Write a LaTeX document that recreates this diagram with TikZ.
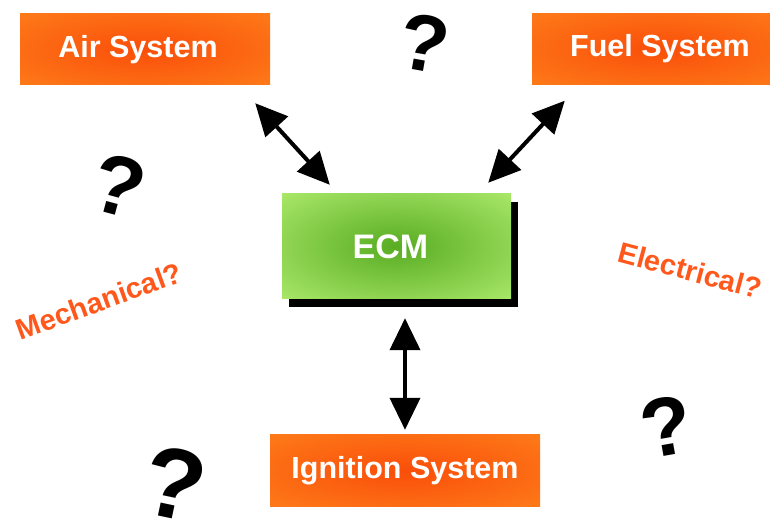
\documentclass[tikz,border=0pt]{standalone}
\usepackage{fontspec}
\setmainfont{Liberation Sans}
\usepackage{tikz}
\usetikzlibrary{shapes,arrows.meta,shadows}
\definecolor{orangein}{RGB}{250,78,10}
\definecolor{orangeout}{RGB}{255,140,30}
\definecolor{greenin}{RGB}{88,172,34}
\definecolor{greenout}{RGB}{188,245,122}
\definecolor{greenrim}{RGB}{214,255,160}
\definecolor{hint}{RGB}{255,88,28}
\pgfdeclareradialshading{orangeglow}{\pgfpoint{0bp}{0bp}}{color(0bp)=(orangein); color(50bp)=(orangeout); color(70bp)=(orangeout)}
\pgfdeclareradialshading{greenglow}{\pgfpoint{0bp}{0bp}}{color(0bp)=(greenin); color(44bp)=(greenout); color(70bp)=(greenrim)}
\def\Core{ECM}

\begin{document}
\begin{tikzpicture}[x=1pt,y=1pt,% styles shared by all nodes and edges
			every node/.style={
				align=center,		% so that "\\" works inside a node
				inner sep=0pt
			},
			sysbox/.style={rectangle,shading=orangeglow,
				minimum height=71pt,text=white,font=\bfseries\fontsize{30.5}{33}\selectfont},
			corebox/.style={rectangle,shading=greenglow,
				minimum width=229pt,minimum height=105pt,text=white,
				font=\bfseries\fontsize{34}{38}\selectfont,
				drop shadow={shadow xshift=7pt,shadow yshift=-8pt,fill=black,opacity=1}},
			guess/.style={text=black,font=\bfseries\fontsize{#1}{#1}\selectfont},
			tag/.style={text=hint,font=\bfseries\fontsize{29}{32}\selectfont},
			every edge/.style={draw,line width=4pt,{Triangle[length=32pt,width=30pt]}-{Triangle[length=32pt,width=30pt]}}
		]
		\useasboundingbox (0,0) rectangle (770,521);
		\clip (0,0) rectangle (770,521);
		\node[sysbox,minimum width=250pt](Air) at (145,471.5){Air System\hspace*{14pt}};
		\node[sysbox,minimum width=256pt](Fuel) at (660,472){Fuel System};
		\node[corebox](Core) at (396.5,274.5){\Core\hspace*{12pt}};
		\node[sysbox,minimum width=270pt,minimum height=72pt](Ign) at (405,50){Ignition System};
		\node[tag,rotate=20](Mech) at (99,220){Mechanical?};
		\node[tag,rotate=-15](Elec) at (690,250.5){Electrical?};
		\node[guess=80,rotate=-10](QTop) at (424,478){?};
		\node[guess=84,rotate=-15](QLeft) at (119,335){?};
		\node[guess=100,rotate=-12](QLow) at (175,37){?};
		\node[guess=83,rotate=10](QRight) at (666,94){?};
		% arrow ends, the arrows stop short of the boxes
		\coordinate (AirEnd) at ([xshift=-15pt,yshift=-18pt]Air.south east);
		\coordinate (CoreAir) at ([xshift=48pt,yshift=9pt]Core.north west);
		\coordinate (FuelEnd) at ([xshift=33pt,yshift=-16pt]Fuel.south west);
		\coordinate (CoreFuel) at ([xshift=-23pt,yshift=11pt]Core.north east);
		\coordinate (CoreIgn) at ([xshift=8.5pt,yshift=-19pt]Core.south);
		\coordinate (IgnEnd) at ([yshift=5pt]Ign.north);
		\path
		(AirEnd)edge []	node [] {} (CoreAir)
		(FuelEnd)edge []	node [] {} (CoreFuel)
		(CoreIgn)edge []	node [] {} (IgnEnd)
		;
	\end{tikzpicture}
\end{document}
